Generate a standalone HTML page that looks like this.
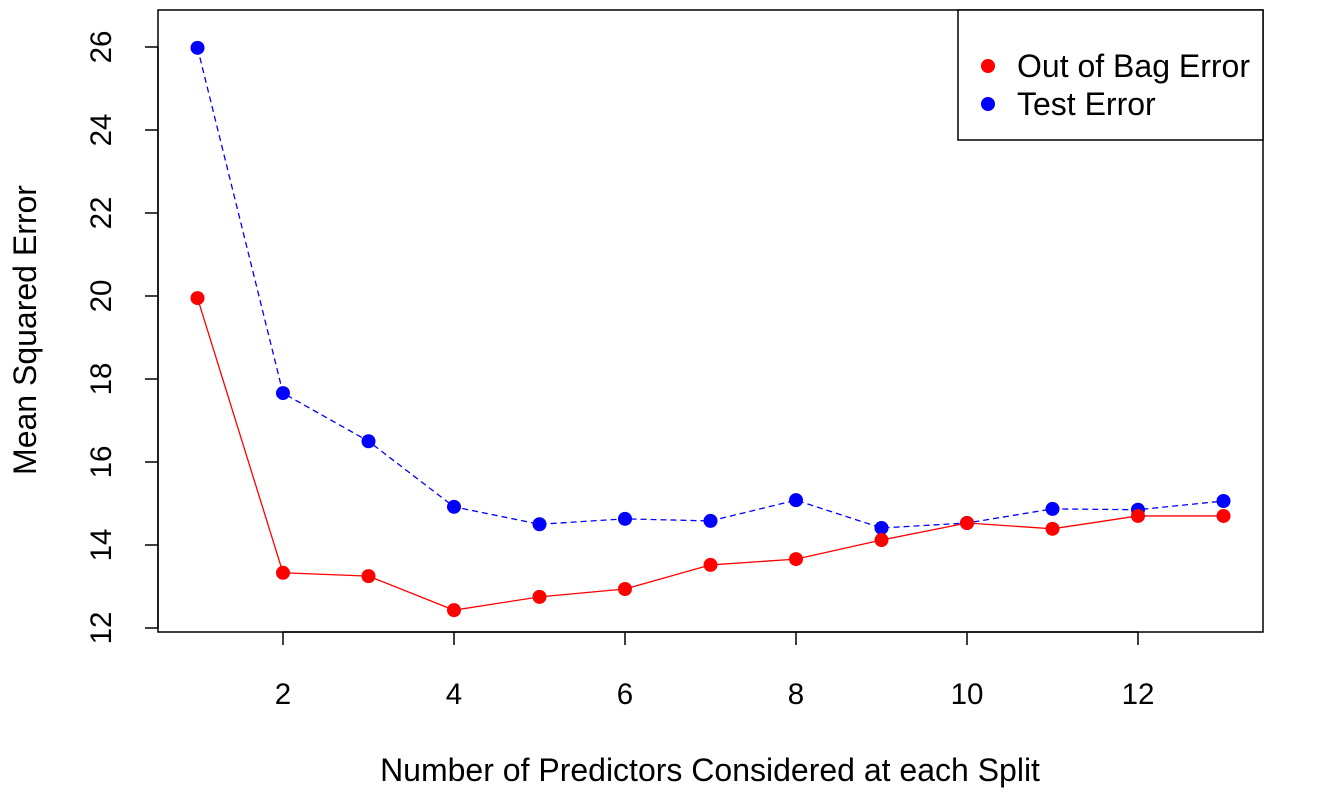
<!DOCTYPE html>
<html><head><meta charset="utf-8"><style>
body{margin:0;background:#fff}
svg{display:block;font-family:"Liberation Sans",Arial,sans-serif}
</style></head><body>
<svg id="chart" width="1344" height="804">
<rect x="158" y="10" width="1105" height="622" fill="none" stroke="#000" stroke-width="1.5"/>
<g id="axes"></g>
<g id="series"></g>
<g>
<rect x="958" y="10" width="305" height="130" fill="#fff" stroke="#000" stroke-width="1.5"/>
<circle cx="988" cy="66" r="7" fill="#f00"/>
<text x="1017" y="77" font-size="32">Out of Bag Error</text>
<circle cx="988" cy="104" r="7" fill="#00f"/>
<text x="1017" y="115" font-size="32">Test Error</text>
</g>
<text x="710" y="781" font-size="32" text-anchor="middle">Number of Predictors Considered at each Split</text>
<text transform="translate(36,330) rotate(-90)" font-size="32" text-anchor="middle">Mean Squared Error</text>
</svg>
<script>
const mtry=[1,2,3,4,5,6,7,8,9,10,11,12,13];
const oobErr=[19.95,13.33,13.25,12.43,12.75,12.94,13.52,13.66,14.12,14.53,14.39,14.70,14.70];
const testErr=[25.98,17.66,16.5,14.92,14.5,14.63,14.58,15.08,14.41,14.53,14.87,14.85,15.06];
const xTicks=[2,4,6,8,10,12];
const yTicks=[12,14,16,18,20,22,24,26];
const NS="http://www.w3.org/2000/svg";
const xs=v=>197.5+(v-1)*85.5;
const ys=v=>628-(v-12)*41.5;
const axes=document.getElementById('axes'),ser=document.getElementById('series');
function mk(tag,attrs,parent){const e=document.createElementNS(NS,tag);for(const k in attrs)e.setAttribute(k,attrs[k]);parent.appendChild(e);return e;}
let l=mk('line',{x1:xs(xTicks[0]),x2:xs(xTicks[xTicks.length-1]),y1:632,y2:632,stroke:'#000','stroke-width':1.5},axes);


xTicks.forEach(t=>{
 const tk=mk('line',{x1:xs(t),x2:xs(t),y1:632,y2:645,stroke:'#000','stroke-width':1.5},axes);
 
 
 const tx=mk('text',{x:xs(t),y:704,'font-size':29.5,'text-anchor':'middle'},axes);tx.textContent=t;
 
 
});
l=mk('line',{x1:158,x2:158,y1:ys(yTicks[0]),y2:ys(yTicks[yTicks.length-1]),stroke:'#000','stroke-width':1.5},axes);


yTicks.forEach(t=>{
 const tk=mk('line',{x1:145,x2:158,y1:ys(t),y2:ys(t),stroke:'#000','stroke-width':1.5},axes);
 
 
 const tx=mk('text',{transform:`translate(111,${ys(t)}) rotate(-90)`,'font-size':29.5,'text-anchor':'middle'},axes);tx.textContent=t;
 
 
});
function series(vals,color,dash,name){
 const pts=mtry.map((m,i)=>xs(m)+','+ys(vals[i])).join(' ');
 const pl=mk('polyline',{points:pts,fill:'none',stroke:color,'stroke-width':1.3,'stroke-dasharray':dash},ser);
 
 
 mtry.forEach((m,i)=>{
  const c=mk('circle',{cx:xs(m),cy:ys(vals[i]),r:7,fill:color},ser);
  
  
 });
}
series(testErr,'#00f','6,4','test-error');
series(oobErr,'#f00','none','oob-error');
</script>
</body></html>
